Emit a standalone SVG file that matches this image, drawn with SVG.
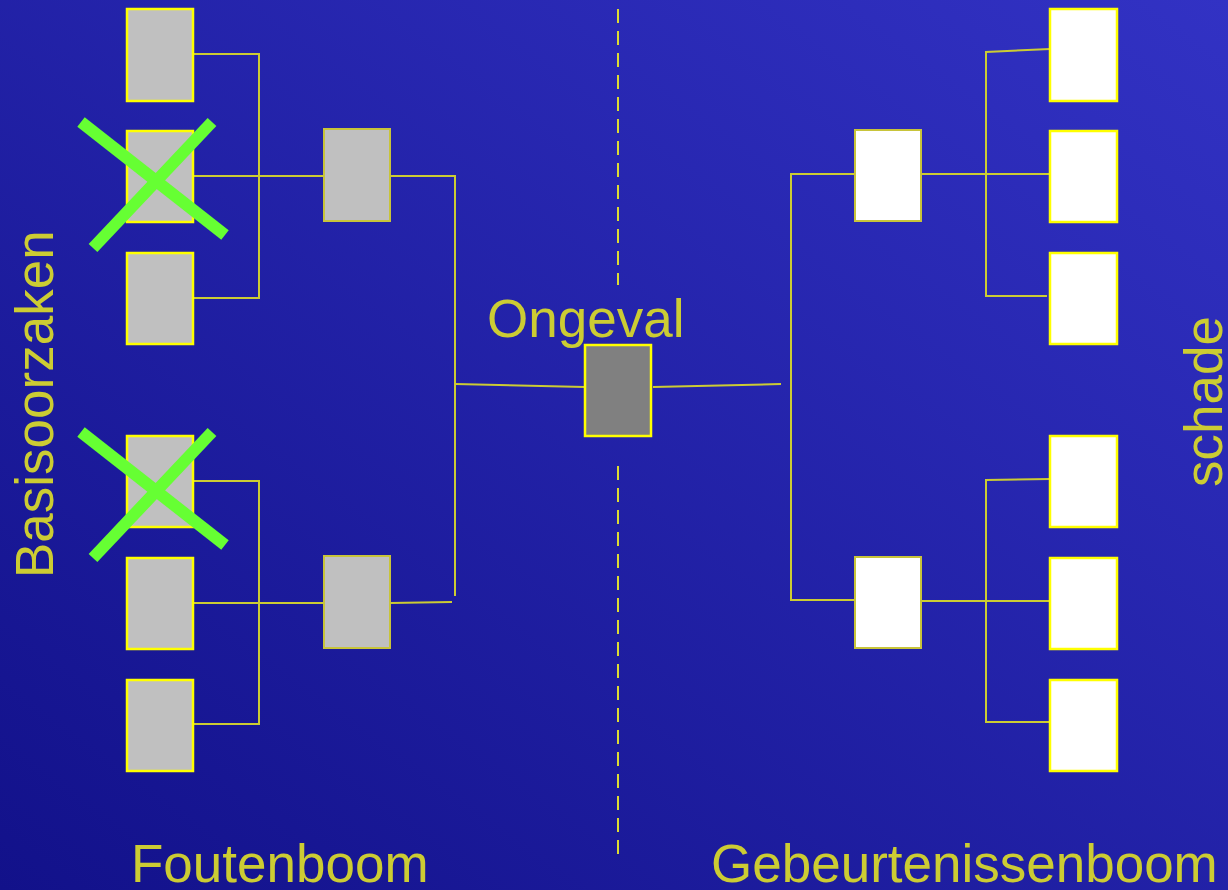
<svg xmlns="http://www.w3.org/2000/svg" width="1228" height="890" viewBox="0 0 1228 890">
<defs>
<linearGradient id="bg" x1="0" y1="1" x2="1" y2="0">
<stop offset="0" stop-color="#12118a"/>
<stop offset="1" stop-color="#3232c4"/>
</linearGradient>
<style>
.leaf{fill:#c0c0c0;stroke:#ffff00;stroke-width:2.5}
.mid{fill:#c0c0c0;stroke:#c8c43a;stroke-width:2}
.wmid{fill:#ffffff;stroke:#c8c43a;stroke-width:2}
.wleaf{fill:#ffffff;stroke:#ffff00;stroke-width:2.5}
.top{fill:#808080;stroke:#ffff00;stroke-width:2.5}
.con{fill:none;stroke:#cccc33;stroke-width:2}
.dash{fill:none;stroke:#dcdc33;stroke-width:2;stroke-dasharray:14 8}
.x{stroke:#66ff33;stroke-width:12}
.lbl{font-family:"Liberation Sans",Arial,sans-serif;font-size:53px;fill:#cccc33}
</style>
</defs>
<rect width="1228" height="890" fill="url(#bg)"/>

<g id="divider">
<line class="dash" x1="618" y1="9" x2="618" y2="285"/>
<line class="dash" x1="618" y1="466" x2="618" y2="862"/>
</g>

<g id="connectors">
<polyline class="con" points="193,54 259,54 259,298 193,298"/>
<line class="con" x1="193" y1="176" x2="324" y2="176"/>
<polyline class="con" points="193,481 259,481 259,724 193,724"/>
<line class="con" x1="193" y1="603" x2="324" y2="603"/>
<polyline class="con" points="390,176 455,176 455,596"/>
<line class="con" x1="390" y1="603" x2="452" y2="602"/>
<line class="con" x1="455" y1="384" x2="585" y2="387"/>
<line class="con" x1="653" y1="387" x2="781" y2="384"/>
<polyline class="con" points="855,174 791,174 791,600 855,600"/>
<line class="con" x1="921" y1="174" x2="1050" y2="174"/>
<polyline class="con" points="1050,49 986,52 986,296 1047,296"/>
<polyline class="con" points="1050,479 986,480 986,722 1050,722"/>
<line class="con" x1="921" y1="601" x2="1050" y2="601"/>
</g>

<g id="basic1"><rect class="leaf" x="127" y="9" width="66" height="92"/></g>
<g id="basic2"><rect class="leaf" x="127" y="131" width="66" height="91"/></g>
<g id="basic3"><rect class="leaf" x="127" y="253" width="66" height="91"/></g>
<g id="basic4"><rect class="leaf" x="127" y="436" width="66" height="91"/></g>
<g id="basic5"><rect class="leaf" x="127" y="558" width="66" height="91"/></g>
<g id="basic6"><rect class="leaf" x="127" y="680" width="66" height="91"/></g>

<g id="fault1"><rect class="mid" x="324" y="129" width="66" height="92"/></g>
<g id="fault2"><rect class="mid" x="324" y="556" width="66" height="92"/></g>

<g id="ongeval">
<rect class="top" x="585" y="345" width="66" height="91"/>
<text class="lbl" x="487" y="337">Ongeval</text>
</g>

<g id="event1"><rect class="wmid" x="855" y="130" width="66" height="91"/></g>
<g id="event2"><rect class="wmid" x="855" y="557" width="66" height="91"/></g>

<g id="damage1"><rect class="wleaf" x="1050" y="9" width="67" height="92"/></g>
<g id="damage2"><rect class="wleaf" x="1050" y="131" width="67" height="91"/></g>
<g id="damage3"><rect class="wleaf" x="1050" y="253" width="67" height="91"/></g>
<g id="damage4"><rect class="wleaf" x="1050" y="436" width="67" height="91"/></g>
<g id="damage5"><rect class="wleaf" x="1050" y="558" width="67" height="91"/></g>
<g id="damage6"><rect class="wleaf" x="1050" y="680" width="67" height="91"/></g>

<g id="cross1">
<line class="x" x1="81" y1="122" x2="225" y2="235"/>
<line class="x" x1="212" y1="122" x2="93" y2="248"/>
</g>
<g id="cross2">
<line class="x" x1="81" y1="432" x2="225" y2="545"/>
<line class="x" x1="212" y1="432" x2="93" y2="558"/>
</g>

<g id="labels">
<text class="lbl" transform="translate(53,578) rotate(-90)">Basisoorzaken</text>
<text class="lbl" transform="translate(1222,487) rotate(-90)">schade</text>
<text class="lbl" x="131" y="882">Foutenboom</text>
<text class="lbl" x="711" y="882">Gebeurtenissenboom</text>
</g>
</svg>
